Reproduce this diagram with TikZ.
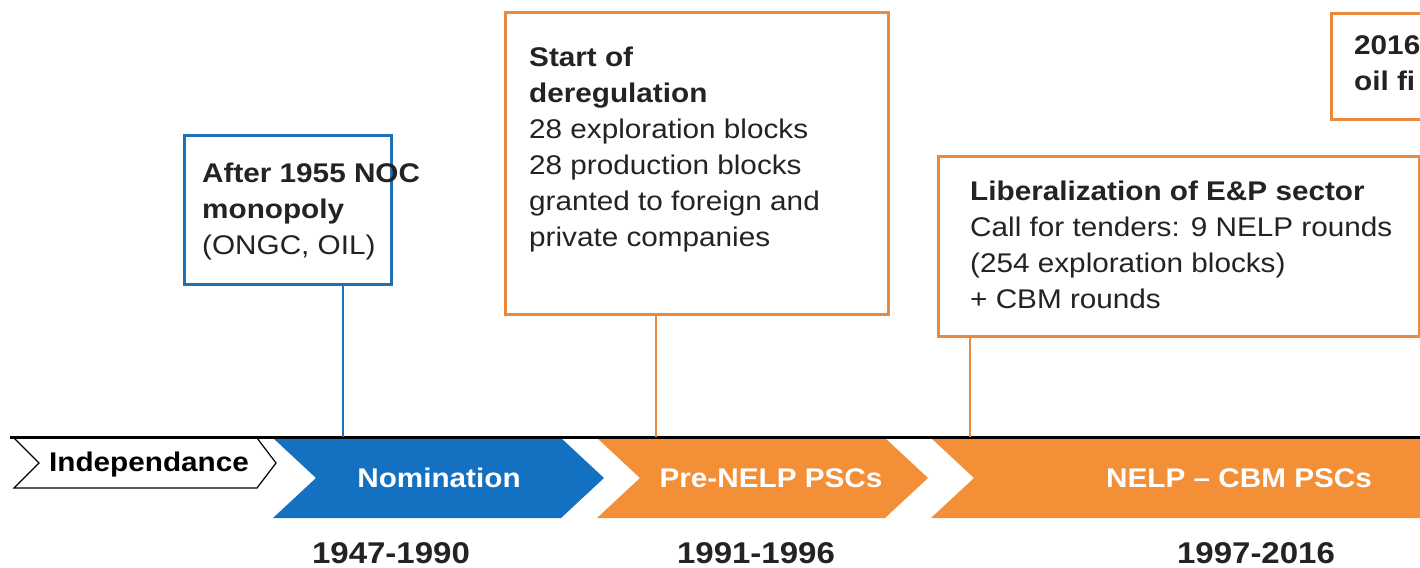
\documentclass[tikz,border=0pt]{standalone}
\usepackage{fontspec}
\setmainfont{Liberation Sans}[FakeStretch=1.1]
\usetikzlibrary{positioning}

\definecolor{nocblue}{RGB}{20,112,192}
\definecolor{psco}{RGB}{243,143,55}
\definecolor{boxo}{RGB}{232,137,62}
\definecolor{boxb}{RGB}{32,112,180}
\definecolor{ink}{RGB}{35,35,35}

\tikzset{
  phase/.style={font=\bfseries\fontsize{27}{32}\selectfont, text=white},
  period/.style={font=\bfseries\fontsize{30}{36}\selectfont, text=ink},
  event/.style={draw, line width=3pt, fill=white, anchor=north west, inner sep=0pt},
  eventtext/.style={anchor=north west, inner sep=0pt, align=left, text=ink,
    font=\fontsize{27}{36}\selectfont},
}

\begin{document}
\begin{tikzpicture}[x=1pt, y=-1pt]
	\clip (0,0) rectangle (1420,567);

	% phases
	\draw[line width=1.2pt, fill=white] (14,438) -- (257,438) -- (276,463) -- (257,488) -- (14,488) -- (39,463) -- cycle;
	\fill[nocblue] (273,438) -- (561,438) -- (604,478) -- (561,518) -- (273,518) -- (316,478) -- cycle;
	\fill[psco] (597,438) -- (885,438) -- (928,478) -- (885,518) -- (597,518) -- (640,478) -- cycle;
	\fill[psco] (931,438) -- (1430,438) -- (1430,518) -- (931,518) -- (974,478) -- cycle;
	\draw[line width=3pt] (10,437) -- (1420,437);

	\node[phase, text=black] (indep) at (149,465) {Independance};
	\node[phase] (nomin) at (439,478) {Nomination};
	\node[phase] (prenelp) at (771,478) {Pre-NELP PSCs};
	\node[phase] (nelp) at (1239,478) {NELP -- CBM PSCs};

	\node[period] (p1) at (391,553) {1947-1990};
	\node[period] (p2) at (756,553) {1991-1996};
	\node[period] (p3) at (1256,553) {1997-2016};

	% events
	\node[event, draw=boxb, minimum width=207, minimum height=149] (noc) at (183,134) {};
	\node[eventtext] (noc-t) at ([shift={(19,29)}]noc.north west)
		{\textbf{After 1955 NOC}\\\textbf{monopoly}\\(ONGC, OIL)};

	\node[event, draw=boxo, minimum width=383, minimum height=302] (dereg) at (504,11) {};
	\node[eventtext] (dereg-t) at ([shift={(25,36)}]dereg.north west)
		{\textbf{Start of}\\\textbf{deregulation}\\28 exploration blocks\\28 production blocks\\granted to foreign and\\private companies};

	\node[event, draw=boxo, minimum width=481, minimum height=180] (liberal) at (937,155) {};
	\node[eventtext] (liberal-t) at ([shift={(33,26)}]liberal.north west)
		{\textbf{Liberalization of E\&P sector}\\Call for tenders: 9 NELP rounds\\(254 exploration blocks)\\+ CBM rounds};

	\node[event, draw=boxo, minimum width=120, minimum height=106] (oil) at (1330,12) {};
	\node[eventtext] (oil-t) at ([shift={(24,23)}]oil.north west)
		{\textbf{2016}\\\textbf{oil fi}};

	\coordinate (t1) at (343,437);
	\coordinate (t2) at (656,437);
	\coordinate (t3) at (970,437);
	\draw[boxb, line width=2.5pt] (noc.south -| t1) -- (t1);
	\draw[boxo, line width=2.5pt] (dereg.south -| t2) -- (t2);
	\draw[boxo, line width=2.5pt] (liberal.south -| t3) -- (t3);
\end{tikzpicture}
\end{document}
